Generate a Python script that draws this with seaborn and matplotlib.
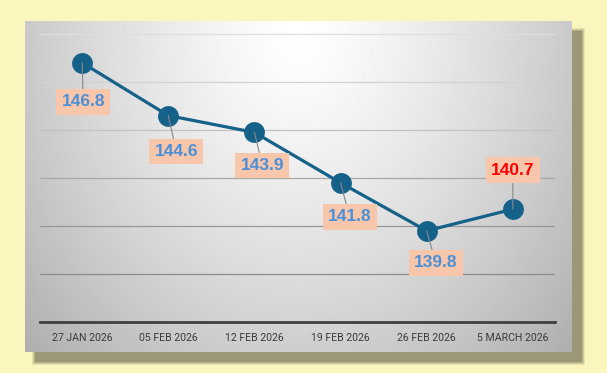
import numpy as np
import pandas as pd
import seaborn as sns
import matplotlib.pyplot as plt
from matplotlib.patches import Rectangle

# data
dates = ["27 JAN 2026", "05 FEB 2026", "12 FEB 2026", "19 FEB 2026", "26 FEB 2026", "5 MARCH 2026"]
prices = [146.8, 144.6, 143.9, 141.8, 139.8, 140.7]
label_colors = ["#4a90d9", "#4a90d9", "#4a90d9", "#4a90d9", "#4a90d9", "#ff0000"]
# label offsets in pixels relative to the point
label_offsets = [(1, -39), (8, -36), (8, -33), (9, -34), (9, -32), (0, 39)]

df = pd.DataFrame({"date": dates, "price": prices})

sns.set_theme(style="white")
plt.rcParams["font.family"] = ["Roboto", "DejaVu Sans"]

W, H = 607, 373
fig = plt.figure(figsize=(W / 100, H / 100), dpi=100)
fig.patch.set_facecolor("#fbf6bd")

# panel rectangle in pixels
px0, py0, px1, py1 = 25, 21, 572, 352

# soft shadow
for i, a in enumerate([0.2, 0.3, 0.45, 0.9]):
    g = 3 - i
    fig.patches.append(Rectangle(((px0 + 10 - g) / W, (H - py1 - 10 - g) / H),
                                 (px1 - px0 + 2 * g) / W, (py1 - py0 + 2 * g) / H,
                                 transform=fig.transFigure, facecolor="#9a9673",
                                 alpha=a, edgecolor="none", zorder=0))

# panel with radial gradient
bg = fig.add_axes([px0 / W, (H - py1) / H, (px1 - px0) / W, (py1 - py0) / H], zorder=1)
xx, yy = np.meshgrid(np.linspace(-1, 1, 400), np.linspace(0, 1, 250))
r = np.sqrt((xx / 1.0) ** 2 + ((yy - 0.02) / 1.05) ** 2)
shade = np.clip(1.0 - 0.21 * r ** 1.3, 0, 1)
bg.imshow(shade, cmap="gray", vmin=0, vmax=1, aspect="auto", extent=(0, 1, 1, 0))
bg.set_axis_off()

# plot axes
ax = fig.add_axes([40 / W, 51 / H, 515 / W, 300 / H], zorder=2)
ax.patch.set_alpha(0)

sns.lineplot(data=df, x="date", y="price", ax=ax, sort=False, color="#15618a",
             linewidth=2.3, marker="o", markersize=15, markeredgewidth=0)

ax.set_xlim(-0.49, 5.49)
ax.set_ylim(136, 148.5)
ax.set_yticks([138, 140, 142, 144, 146, 148])
ax.set_xlabel("")
ax.set_ylabel("")
ax.tick_params(axis="y", left=False, labelleft=False)
ax.tick_params(axis="x", length=0, pad=8, labelsize=7.6, labelcolor="#3a3a3a")

ax.grid(axis="y", linewidth=0.9)
grid_colors = ["#8c8c8c", "#989898", "#a8a8a8", "#c2c2c2", "#d2d2d2", "#dedede"]
for gl, c in zip(ax.yaxis.get_gridlines(), grid_colors):
    gl.set_color(c)

for s in ["top", "right", "left"]:
    ax.spines[s].set_visible(False)
ax.spines["bottom"].set_color("#404040")
ax.spines["bottom"].set_linewidth(2)

for i, (v, c, off) in enumerate(zip(prices, label_colors, label_offsets)):
    ax.annotate(f"{v:.1f}", xy=(i, v), xytext=off, textcoords="offset pixels",
                ha="center", va="center", fontsize=12.5, fontweight="bold", color=c,
                family=["Liberation Sans", "DejaVu Sans"],
                bbox=dict(boxstyle="square,pad=0.3", facecolor="#f7c6ab", edgecolor="none"),
                arrowprops=dict(arrowstyle="-", color="#888888", lw=0.8,
                                shrinkA=0, shrinkB=0),
                zorder=5)

fig.savefig("out.png", dpi=100, facecolor=fig.get_facecolor())
